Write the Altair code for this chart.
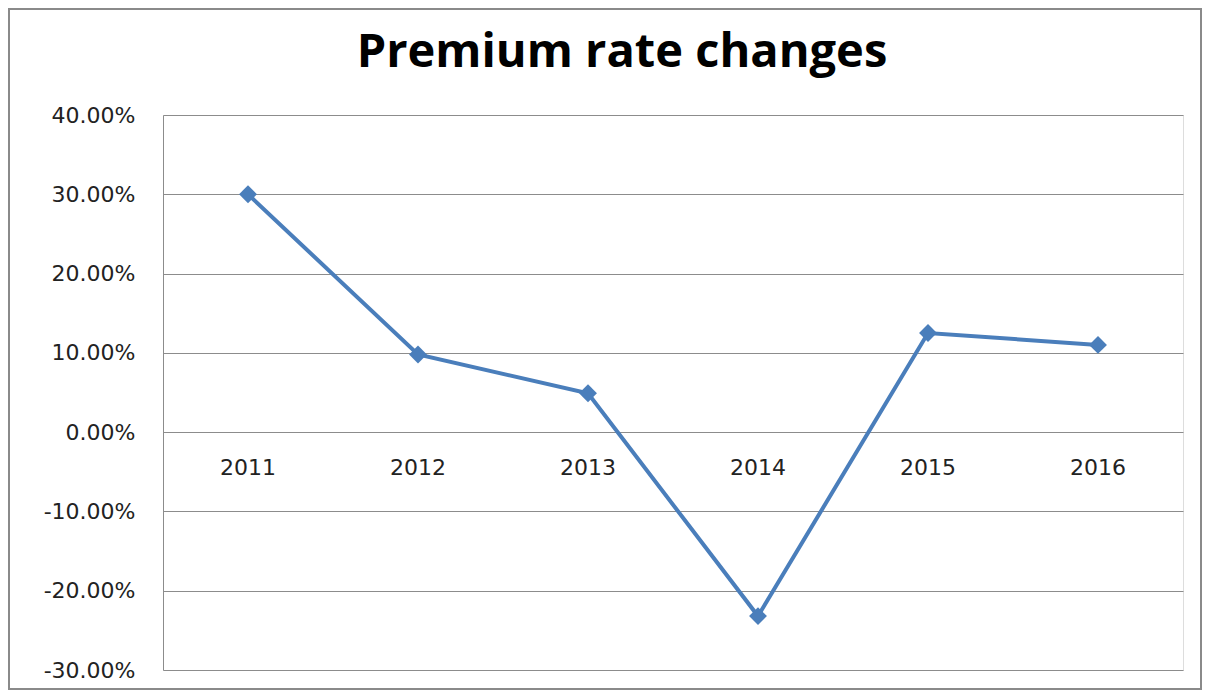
import altair as alt
import pandas as pd

years = ["2011", "2012", "2013", "2014", "2015", "2016"]
changes = [0.300, 0.098, 0.049, -0.232, 0.125, 0.110]
y_ticks = [-0.3, -0.2, -0.1, 0.0, 0.1, 0.2, 0.3, 0.4]

df = pd.DataFrame({"year": years, "change": changes})

FONT = "Open Sans"
LFONT = "DejaVu Sans"
BLUE = "#4A7EBB"
GRID = "#8C8C8C"

x_enc = alt.X("year:N", sort=years,
              scale=alt.Scale(type="point", padding=0.5),
              axis=None)
y_scale = alt.Scale(domain=[-0.3, 0.4], nice=False, zero=False)

base = alt.Chart(df)

line = base.mark_line(color=BLUE, strokeWidth=4).encode(
    x=x_enc,
    y=alt.Y("change:Q", scale=y_scale,
            axis=alt.Axis(values=y_ticks, title=None,
                          labelExpr="(datum.value < 0 ? '-' : '') + format(abs(datum.value), '.2%')",
                          grid=True, gridColor=GRID, gridWidth=1,
                          ticks=False, domain=True, domainColor=GRID,
                          labelFont=LFONT, labelFontSize=22, labelColor="#222222",
                          labelPadding=28)),
)

points = base.mark_point(shape="diamond", filled=True, color=BLUE, size=320, opacity=1).encode(
    x=x_enc,
    y=alt.Y("change:Q", scale=y_scale),
)

labels = base.mark_text(font=LFONT, fontSize=22, color="#222222", dy=36).encode(
    x=x_enc,
    y=alt.datum(0),
    text="year:N",
)

frame = alt.Chart(df).mark_rect(fill=None, stroke="#8A8A8A", strokeWidth=2).encode(
    x=alt.value(-154), x2=alt.value(1038),
    y=alt.value(-106), y2=alt.value(574),
)

chart = alt.layer(frame, line, points, labels).properties(
    width=1020,
    height=555,
    padding={"left": 155, "top": 107, "right": 19, "bottom": 20},
    autosize=alt.AutoSizeParams(type="none"),
    title=alt.TitleParams("Premium rate changes", font=FONT, fontSize=47,
                          fontWeight="bold", color="#000000",
                          anchor="middle", frame="group", dx=-51,
                          baseline="alphabetic", offset=-106),
).configure_view(stroke=None).configure(background="white")

chart.save("out.html", embed_options={"renderer": "svg", "actions": False})
